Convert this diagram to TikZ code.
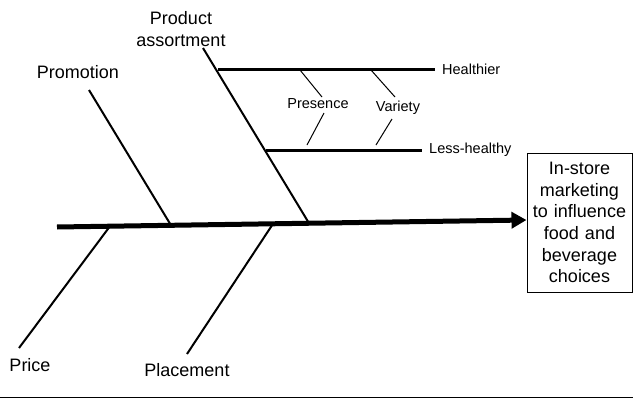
\documentclass[tikz,border=0pt]{standalone}
\usepackage{fontspec}
\setmainfont{Liberation Sans}
\usetikzlibrary{arrows.meta, positioning}

\begin{document}
\begin{tikzpicture}[x=1pt, y=-1pt,
  big/.style = {font=\fontsize{18}{21.7}\selectfont, inner sep=0pt},
  small/.style = {font=\fontsize{14.5}{17}\selectfont, inner sep=0pt},
  bone/.style = {line width=2pt},
  rib/.style = {line width=3pt, shorten >=7pt},
  tick/.style = {line width=1pt}]
\useasboundingbox (0,0) rectangle (633,399);
\node[draw, line width=1pt, big, align=center, text width=100pt, minimum width=105pt, minimum height=139pt] (goal) at (579.5,222.5) {In-store\\marketing\\to influence\\food and\\beverage\\choices};
\coordinate (tail) at (57,227);
\draw[line width=5pt, -{Triangle[length=15pt, width=16pt]}] (tail) -- ([yshift=2.5pt]goal.west);

\node[big] (promotion) at (78,72) {Promotion};
\node[big, align=center] (product) at (181,29) {Product\\assortment};
\node[big] (price) at (30,365) {Price};
\node[big] (placement) at (187,370) {Placement};

\coordinate (h1) at (89,90);
\coordinate (h2) at (203,48);
\coordinate (h3) at (19,348);
\coordinate (h4) at (187,354);
\coordinate (f1) at (171,225.3);
\coordinate (f2) at (309,223.2);
\coordinate (f3) at (110,226.2);
\coordinate (f4) at (273,223.8);
\draw[bone] (h1) -- (f1);
\draw[bone] (h2) -- (f2);
\draw[bone] (h3) -- (f3);
\draw[bone] (h4) -- (f4);

\node[small, anchor=west] (healthier) at (442,69) {Healthier};
\node[small, anchor=west] (lesshealthy) at (429,150) {Less-healthy};
\coordinate (r1) at (218,69);
\coordinate (r2) at (266,150);
\draw[rib] (r1) -- (healthier.west);
\draw[rib] (r2) -- (lesshealthy.west);

\node[small] (presence) at (318,104) {Presence};
\node[small] (variety) at (398,108) {Variety};
\coordinate (p1) at (300,70);
\coordinate (p2) at (322,97);
\coordinate (p3) at (324,113);
\coordinate (p4) at (307,145);
\coordinate (v1) at (371,70);
\coordinate (v2) at (395,97);
\coordinate (v3) at (392,119);
\coordinate (v4) at (376,145);
\draw[tick] (p1) -- (p2);
\draw[tick] (p3) -- (p4);
\draw[tick] (v1) -- (v2);
\draw[tick] (v3) -- (v4);

\coordinate (rule1) at (0,397.5);
\coordinate (rule2) at (633,397.5);
\draw[line width=1pt] (rule1) -- (rule2);
\end{tikzpicture}
\end{document}
